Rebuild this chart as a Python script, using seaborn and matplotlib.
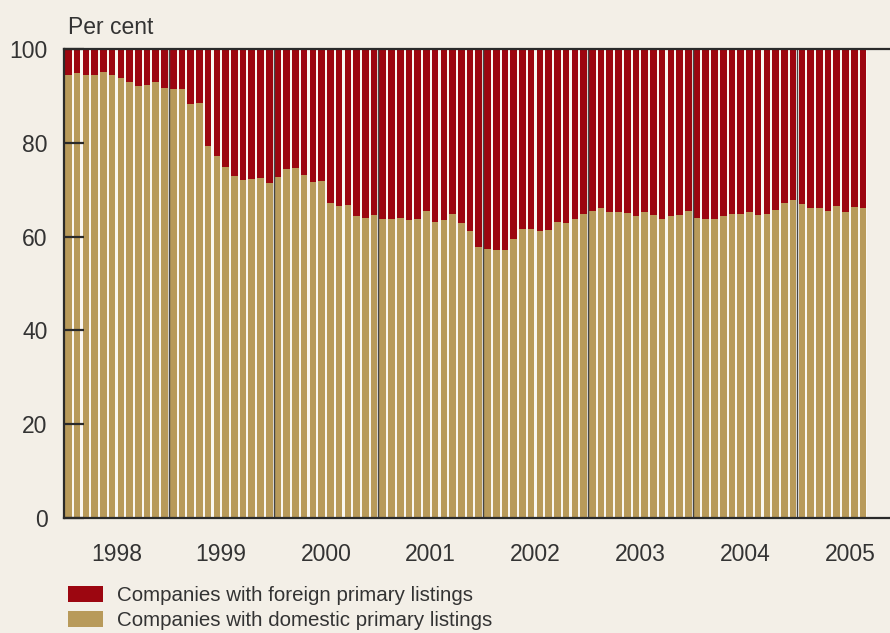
import numpy as np
import pandas as pd
import matplotlib.pyplot as plt
import seaborn as sns
from matplotlib.patches import Patch

# share of companies with domestic primary listings, monthly, per cent
years = ["1998", "1999", "2000", "2001", "2002", "2003", "2004", "2005"]
domestic_1998 = [94.5, 94.8, 94.5, 94.5, 95.0, 94.5, 93.8, 93.0, 92.1, 92.3, 93.0, 91.7]
domestic_1999 = [91.5, 91.5, 88.3, 88.5, 79.3, 77.2, 74.8, 72.9, 72.1, 72.3, 72.5, 71.4]
domestic_2000 = [72.7, 74.4, 74.6, 73.1, 71.6, 71.9, 67.2, 66.5, 66.7, 64.4, 64.0, 64.6]
domestic_2001 = [63.8, 63.8, 64.0, 63.5, 63.8, 65.5, 63.1, 63.5, 64.8, 62.9, 61.2, 57.8]
domestic_2002 = [57.4, 57.1, 57.1, 59.5, 61.6, 61.6, 61.2, 61.4, 63.1, 62.9, 63.8, 64.8]
domestic_2003 = [65.5, 66.1, 65.2, 65.2, 65.0, 64.4, 65.2, 64.6, 63.8, 64.4, 64.6, 65.5]
domestic_2004 = [64.0, 63.8, 63.8, 64.4, 64.8, 64.8, 65.2, 64.6, 64.8, 65.7, 67.2, 67.8]
domestic_2005 = [67.0, 66.1, 66.1, 65.5, 66.5, 65.2, 66.3, 66.1]

domestic = (domestic_1998 + domestic_1999 + domestic_2000 + domestic_2001
            + domestic_2002 + domestic_2003 + domestic_2004 + domestic_2005)
df = pd.DataFrame({"month": np.arange(len(domestic)), "domestic": domestic})
df["total"] = 100.0

RED = "#9C0610"
TAN = "#B89A5A"
BG = "#F3EFE7"
GAP = "#FAF7F1"
INK = "#333333"

plt.rcParams["font.family"] = ["Liberation Sans", "DejaVu Sans"]

fig = plt.figure(figsize=(8.9, 6.33), dpi=100, facecolor=BG)
ax = fig.add_axes([0.072, 0.1817, 0.928, 0.741])
ax.set_facecolor(BG)

# light strip behind the bars, then foreign (full height) and domestic on top
sns.barplot(data=df, x="month", y="total", color=GAP, saturation=1, width=1,
            linewidth=0, errorbar=None, ax=ax)
sns.barplot(data=df, x="month", y="total", color=RED, saturation=1, width=0.76,
            linewidth=0, errorbar=None, ax=ax)
sns.barplot(data=df, x="month", y="domestic", color=TAN, saturation=1, width=0.76,
            linewidth=0, errorbar=None, ax=ax)

# year separators
for k in range(1, len(years)):
    ax.axvline(12 * k - 0.5, color="#444444", lw=1.0, zorder=3)

ax.set_xlim(-0.5, 94.1)
ax.set_ylim(0, 100)
ax.set_xticks([5.5 + 12 * k for k in range(len(years))])
ax.set_xticklabels(years)
ax.set_yticks([0, 20, 40, 60, 80, 100])
ax.tick_params(axis="x", length=0, pad=18, labelsize=16.5, labelcolor=INK)
ax.tick_params(axis="y", direction="in", length=14.5, width=1.6, color="#2a2a2a",
               pad=12, labelsize=16.5, labelcolor=INK)
for t in ax.yaxis.get_major_ticks():
    t.tick1line.set_zorder(5)
ax.set_xlabel("")
ax.set_ylabel("")

for side in ["left", "bottom", "top"]:
    ax.spines[side].set_color("#2a2a2a")
    ax.spines[side].set_linewidth(1.6)
    ax.spines[side].set_zorder(6)
ax.spines["right"].set_visible(False)

fig.text(0.076, 0.957, "Per cent", fontsize=16.5, color=INK, va="center", ha="left")

handles = [Patch(facecolor=RED, edgecolor="none"), Patch(facecolor=TAN, edgecolor="none")]
fig.legend(handles, ["Companies with foreign primary listings",
                     "Companies with domestic primary listings"],
           loc="upper left", bbox_to_anchor=(0.076, 0.074), frameon=False,
           fontsize=14.8, labelcolor=INK, handlelength=1.7, handleheight=0.8,
           handletextpad=0.7, labelspacing=0.3, borderpad=0, borderaxespad=0)

fig.savefig("out.png", dpi=100, facecolor=BG)
